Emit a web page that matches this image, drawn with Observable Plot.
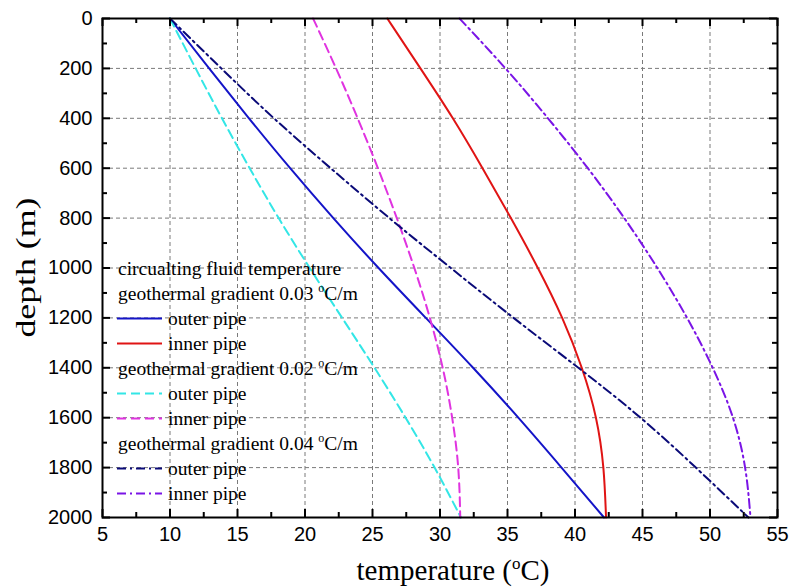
<!DOCTYPE html>
<html>
<head>
<meta charset="utf-8">
<script src="https://cdn.jsdelivr.net/npm/d3@7"></script>
<script src="https://cdn.jsdelivr.net/npm/@observablehq/plot@0.6"></script>
<style>
  html, body { margin: 0; padding: 0; background: white; }
  #chart { position: relative; width: 791px; height: 588px; }
</style>
</head>
<body>
<div id="chart"></div>
<script>
// ---- data ----
const depths = [0, 200, 400, 600, 800, 1000, 1200, 1400, 1600, 1800, 2000];
const outer003 = [10, 12.9, 15.85, 18.9, 22.1, 25.45, 28.95, 32.45, 35.8, 39.0, 42.15];
const inner003 = [26.1, 28.55, 30.95, 33.15, 35.25, 37.25, 39.05, 40.5, 41.55, 42.1, 42.3];
const outer002 = [10, 11.9, 13.85, 15.9, 18.05, 20.35, 22.75, 25.15, 27.45, 29.6, 31.55];
const inner002 = [20.6, 22.3, 23.9, 25.4, 26.8, 28.1, 29.25, 30.2, 30.9, 31.35, 31.5];
const outer004 = [10, 13.8, 17.7, 21.9, 26.25, 30.8, 35.45, 40.25, 44.85, 48.95, 52.85];
const inner004 = [31.45, 34.85, 38.0, 40.95, 43.65, 46.1, 48.3, 50.2, 51.7, 52.6, 53.0];

const xTicks = [5, 10, 15, 20, 25, 30, 35, 40, 45, 50, 55];
const xMinor = [7.5, 12.5, 17.5, 22.5, 27.5, 32.5, 37.5, 42.5, 47.5, 52.5];
const yTicks = [0, 200, 400, 600, 800, 1000, 1200, 1400, 1600, 1800, 2000];
const yMinor = [100, 300, 500, 700, 900, 1100, 1300, 1500, 1700, 1900];

const legendHeader = "circualting fluid temperature";
const groupLabels = ["0.03", "0.02", "0.04"];
const pipeLabels = ["outer pipe", "inner pipe"];

// ---- series table ----
const series = [
  {key: "o03", values: outer003, color: "#1414c8", dash: null},
  {key: "i03", values: inner003, color: "#e01414", dash: null},
  {key: "o02", values: outer002, color: "#33e6e6", dash: "9,5"},
  {key: "i02", values: inner002, color: "#e033e0", dash: "9,5"},
  {key: "o04", values: outer004, color: "#0a0a78", dash: "9,4,2,4"},
  {key: "i04", values: inner004, color: "#7a14e6", dash: "9,4,2,4"}
];

const W = 791, H = 588;
const mL = 102, mR = 14, mT = 18, mB = 71;
const fW = W - mL - mR, fH = H - mT - mB;

const lineMarks = series.map(s => Plot.line(
  depths.map((d, i) => ({t: s.values[i], d})),
  {x: "t", y: "d", curve: "natural", stroke: s.color, strokeWidth: 2,
   strokeDasharray: s.dash || undefined}
));

const plot = Plot.plot({
  width: W, height: H,
  marginLeft: mL, marginRight: mR, marginTop: mT, marginBottom: mB,
  x: {domain: [5, 55]},
  y: {domain: [0, 2000], reverse: true},
  style: {fontFamily: "'Liberation Sans', Arial, sans-serif", fontSize: "20px", background: "white", color: "black"},
  marks: [
    Plot.gridX(xTicks.slice(1, -1), {stroke: "#7a7a7a", strokeOpacity: 1, strokeDasharray: "4,3"}),
    Plot.gridY(yTicks.slice(1, -1), {stroke: "#7a7a7a", strokeOpacity: 1, strokeDasharray: "4,3"}),
    ...lineMarks,
    // inward ticks on all four sides
    Plot.tickX(xTicks, {x: d => d, insetBottom: fH - 8, stroke: "black", strokeWidth: 2}),
    Plot.tickX(xTicks, {x: d => d, insetTop: fH - 8, stroke: "black", strokeWidth: 2}),
    Plot.tickX(xMinor, {x: d => d, insetBottom: fH - 5, stroke: "black", strokeWidth: 2}),
    Plot.tickX(xMinor, {x: d => d, insetTop: fH - 5, stroke: "black", strokeWidth: 2}),
    Plot.tickY(yTicks, {y: d => d, insetRight: fW - 8, stroke: "black", strokeWidth: 2}),
    Plot.tickY(yTicks, {y: d => d, insetLeft: fW - 8, stroke: "black", strokeWidth: 2}),
    Plot.tickY(yMinor, {y: d => d, insetRight: fW - 5, stroke: "black", strokeWidth: 2}),
    Plot.tickY(yMinor, {y: d => d, insetLeft: fW - 5, stroke: "black", strokeWidth: 2}),
    Plot.frame({stroke: "black", strokeWidth: 2}),
    Plot.axisX(xTicks, {tickSize: 0, tickPadding: 9, label: null, tickFormat: d => String(d), fontSize: 20}),
    Plot.axisY(yTicks, {tickSize: 0, tickPadding: 10, label: null, tickFormat: d => String(d), fontSize: 20})
  ]
});

document.getElementById("chart").appendChild(plot);

const svg = d3.select(plot);
const serif = "'Liberation Serif', 'Times New Roman', serif";

// axis titles with superscript
const xt = svg.append("text")
  .attr("x", 453).attr("y", 580)
  .attr("text-anchor", "middle")
  .style("font-family", serif).style("font-size", "29px").attr("fill", "black");
xt.append("tspan").text("temperature (");
xt.append("tspan").text("o").attr("dy", -11).style("font-size", "17px");
xt.append("tspan").text("C)").attr("dy", 11);

svg.append("text")
  .attr("transform", `translate(35,${mT + fH / 2}) rotate(-90)`)
  .attr("text-anchor", "middle")
  .attr("textLength", 140).attr("lengthAdjust", "spacingAndGlyphs")
  .style("font-family", serif).style("font-size", "27px").attr("fill", "black")
  .text("depth (m)");

// legend inside the frame
const lg = svg.append("g").style("font-family", serif).style("font-size", "19.5px")
  .attr("fill", "black").attr("text-anchor", "start");
const rowH = 25, y0 = 268.5, xText0 = 118, xLine0 = 117, xLine1 = 162, xText1 = 168;
let row = 0;
lg.append("text").attr("x", xText0).attr("y", y0).attr("dy", "0.35em").attr("text-anchor", "start").text(legendHeader);
row++;
groupLabels.forEach((g, gi) => {
  const t = lg.append("text").attr("x", xText0).attr("y", y0 + row * rowH).attr("dy", "0.35em").attr("text-anchor", "start");
  t.append("tspan").text("geothermal gradient " + g + " ");
  t.append("tspan").text("o").attr("dy", -8).style("font-size", "12px");
  t.append("tspan").text("C/m").attr("dy", 8);
  row++;
  pipeLabels.forEach((p, pi) => {
    const s = series[gi * 2 + pi];
    const yy = y0 + row * rowH;
    lg.append("line").attr("x1", xLine0).attr("x2", xLine1).attr("y1", yy).attr("y2", yy)
      .attr("stroke", s.color).attr("stroke-width", 2)
      .attr("stroke-dasharray", s.dash || null);
    lg.append("text").attr("x", xText1).attr("y", yy).attr("dy", "0.35em").attr("text-anchor", "start").text(p);
    row++;
  });
});
</script>
</body>
</html>
